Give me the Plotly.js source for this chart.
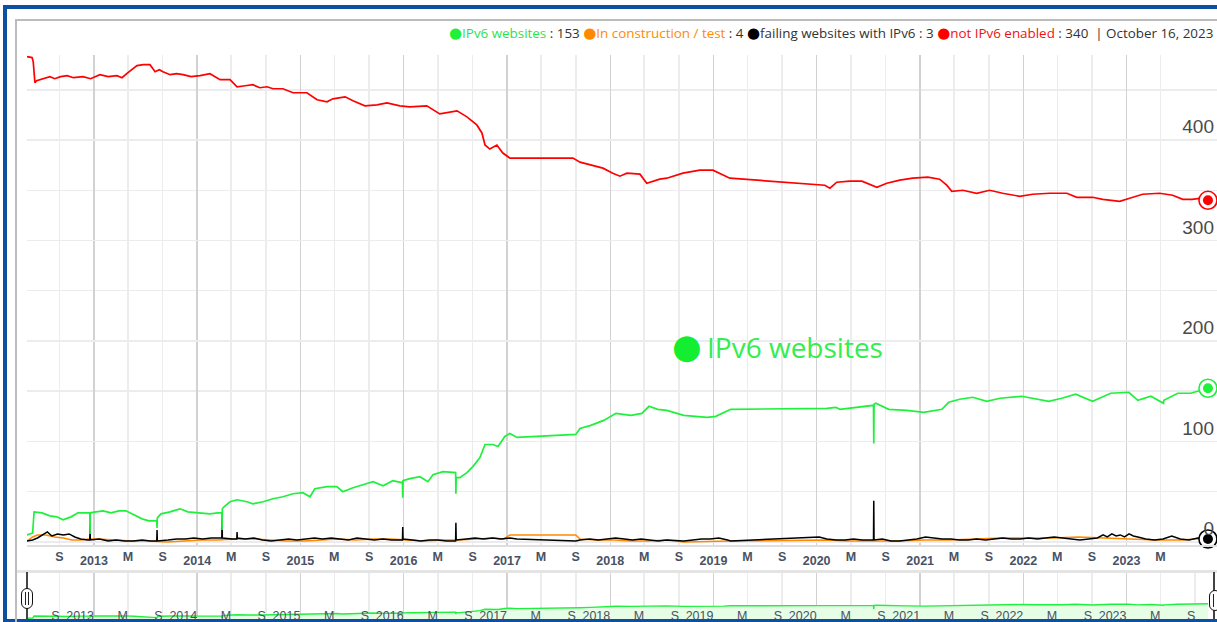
<!DOCTYPE html>
<html><head><meta charset="utf-8">
<script src="https://cdn.plot.ly/plotly-3.0.1.min.js"></script>
<style>
html,body{margin:0;padding:0;background:#fff;overflow:hidden;}
#wrap{position:relative;width:1217px;height:622px;overflow:hidden;background:#fff;}
#chart{position:absolute;left:0;top:0;width:1217px;height:622px;}
.deco{position:absolute;pointer-events:none;box-sizing:border-box;}
</style></head><body>
<div id="wrap">
<div id="chart"></div>
<div class="deco" style="left:3px;top:5px;width:1300px;height:617px;border-left:4px solid #0d4fa0;border-top:4px solid #0d4fa0;border-bottom:3px solid #0d4fa0;"></div>
<div class="deco" style="left:15px;top:19px;width:1300px;height:700px;border-left:2px solid #bcbcbc;border-top:2px solid #bcbcbc;"></div>
<div class="deco" style="left:17px;top:570px;width:1200px;height:3px;background:#e4e4e4;"></div>
<div class="deco" style="left:26px;top:572px;width:2px;height:47px;background:#444;"></div>
<div class="deco" style="left:21px;top:588px;width:12px;height:21px;border:1.8px solid #111;border-radius:6px;background:#fff;"></div>
<div class="deco" style="left:25px;top:592px;width:1.3px;height:13px;background:#222;"></div>
<div class="deco" style="left:28px;top:592px;width:1.3px;height:13px;background:#222;"></div>
<div class="deco" style="left:1213px;top:572px;width:2px;height:47px;background:#444;"></div>
<div class="deco" style="left:1209px;top:590px;width:12px;height:21px;border:1.8px solid #111;border-radius:6px;background:#fff;"></div>
<div class="deco" style="left:1213px;top:594px;width:1.3px;height:13px;background:#222;"></div>
</div>
<script>
// ---- data ----
const redDates = ['2012-05-09','2012-05-27','2012-05-31','2012-06-06','2012-06-12','2012-06-24','2012-07-10','2012-07-29','2012-08-15','2012-09-05','2012-09-28','2012-10-20','2012-11-23','2012-12-20','2013-01-22','2013-02-20','2013-03-23','2013-04-10','2013-05-01','2013-06-02','2013-06-25','2013-07-18','2013-08-05','2013-08-20','2013-09-02','2013-09-27','2013-10-20','2013-11-12','2013-12-10','2014-01-11','2014-02-15','2014-03-05','2014-03-23','2014-04-27','2014-05-22','2014-06-20','2014-07-17','2014-08-10','2014-09-05','2014-09-26','2014-10-31','2014-12-06','2015-01-24','2015-03-01','2015-04-05','2015-04-26','2015-06-08','2015-07-06','2015-08-17','2015-09-29','2015-11-03','2015-12-19','2016-01-23','2016-03-23','2016-05-08','2016-07-08','2016-08-12','2016-09-16','2016-10-04','2016-10-15','2016-11-01','2016-11-26','2016-12-17','2017-01-11','2017-02-05','2017-08-22','2017-09-16','2017-10-10','2017-12-06','2018-01-10','2018-02-04','2018-03-01','2018-04-16','2018-05-10','2018-06-25','2018-07-20','2018-09-15','2018-11-14','2018-12-30','2019-02-28','2020-01-12','2020-01-30','2020-02-17','2020-03-12','2020-04-27','2020-06-09','2020-08-01','2020-09-05','2020-10-21','2020-12-06','2021-01-28','2021-03-11','2021-04-05','2021-04-23','2021-06-01','2021-07-20','2021-09-04','2021-10-20','2021-12-19','2022-02-03','2022-04-04','2022-06-04','2022-07-09','2022-09-03','2022-10-09','2022-12-08','2023-01-12','2023-02-27','2023-04-28','2023-06-13','2023-07-19','2023-08-20','2023-09-17','2023-10-16'];
const redValues = [483,482,478,457,459,460,462,463,461,463,464,462,463,461,465,463,464,462,467,474,475,475,468,470,468,465,466,465,463,464,466,463,460,460,453,454,455,452,453,451,451,447,447,440,438,441,443,439,434,435,437,434,433,434,426,429,423,415,407,395,391,395,387,382,382,382,378,376,372,367,364,367,366,357,361,362,367,370,370,362,356,355,352,358,359,359,353,357,360,362,363,361,355,349,350,347,350,347,344,346,347,347,343,343,341,339,342,346,347,345,341,341,342,340];

const greenDates = ['2012-05-09','2012-05-29','2012-06-03','2012-07-01','2012-07-29','2012-08-23','2012-09-13','2012-10-12','2012-11-05','2012-12-04','2012-12-17','2012-12-18','2012-12-19','2013-01-08','2013-02-02','2013-03-02','2013-03-30','2013-04-24','2013-05-22','2013-06-20','2013-07-14','2013-08-05','2013-08-11','2013-08-12','2013-08-13','2013-08-26','2013-09-27','2013-11-01','2013-11-29','2014-01-07','2014-02-15','2014-03-15','2014-03-29','2014-03-30','2014-03-31','2014-04-06','2014-04-27','2014-05-22','2014-06-26','2014-07-17','2014-08-22','2014-09-26','2014-10-31','2014-12-06','2015-01-10','2015-02-04','2015-02-21','2015-04-05','2015-05-10','2015-05-31','2015-07-06','2015-08-10','2015-09-15','2015-10-20','2015-11-24','2015-12-26','2015-12-28','2015-12-29','2015-12-30','2016-01-23','2016-02-28','2016-03-27','2016-04-14','2016-05-19','2016-06-20','2016-07-03','2016-07-04','2016-07-05','2016-07-18','2016-08-12','2016-09-02','2016-09-27','2016-10-15','2016-11-12','2016-11-30','2016-12-24','2017-01-11','2017-02-05','2017-09-01','2017-09-16','2017-10-24','2017-12-09','2018-01-21','2018-03-15','2018-04-23','2018-05-18','2018-06-18','2018-07-20','2018-09-18','2018-11-07','2018-12-09','2019-01-09','2019-02-07','2019-03-03','2020-02-06','2020-03-09','2020-03-23','2020-05-25','2020-07-10','2020-07-20','2020-07-21','2020-07-22','2020-07-28','2020-09-12','2020-11-15','2021-01-14','2021-03-19','2021-04-12','2021-05-21','2021-07-06','2021-08-25','2021-10-10','2021-12-26','2022-02-14','2022-04-01','2022-05-17','2022-07-05','2022-09-03','2022-11-06','2023-01-09','2023-02-10','2023-03-28','2023-05-12','2023-05-13','2023-07-01','2023-08-16','2023-10-16'];
const greenValues = [7,9,30,29,26,25,22,25,29,29,29,8,29,30,31,29,31,31,27,23,21,21,21,14,24,28,30,33,30,29,28,29,29,12,33,35,40,42,40,38,40,43,45,48,49,45,53,55,55,50,54,57,60,56,61,59,60,44,61,63,65,60,67,70,69,69,48,64,64,69,75,84,97,97,95,105,108,104,107,113,116,121,128,126,128,135,132,131,126,125,124,125,129,132,133,134,132,134,136,136,98,137,138,132,131,129,132,139,142,144,140,143,145,142,140,143,147,140,148,149,141,145,138,141,148,148,153];

const orangeDates = ['2012-05-09','2012-05-29','2012-06-15','2012-07-15','2012-08-15','2012-09-15','2012-10-15','2012-11-15','2012-12-15','2013-01-15','2013-03-15','2013-05-15','2013-07-15','2013-09-15','2013-11-15','2014-01-15','2014-03-15','2014-05-15','2014-07-15','2014-09-15','2014-11-15','2015-01-15','2015-03-15','2015-05-15','2015-07-15','2015-09-15','2015-11-15','2016-01-15','2016-03-15','2016-05-15','2016-07-15','2016-09-15','2016-11-15','2016-12-20','2017-01-11','2017-02-05','2017-09-01','2017-09-16','2017-11-15','2018-01-15','2018-03-15','2018-05-15','2018-07-15','2018-09-18','2019-01-15','2019-03-03','2020-02-06','2020-04-15','2020-07-15','2020-10-15','2021-01-15','2021-04-15','2021-07-15','2021-10-15','2022-01-15','2022-04-15','2022-07-15','2022-10-15','2023-01-15','2023-04-15','2023-07-15','2023-10-16'];
const orangeValues = [1,5,7,7,5,4,2,2,3,3,2,1,1,0,1,2,2,3,3,2,1,1,2,3,2,3,3,2,1,2,2,3,4,3,7,7,7,3,2,2,1,1,2,0,1,1,2,1,1,1,2,2,3,4,4,4,5,4,3,2,2,4];

const blackDates = ['2012-05-09','2012-05-29','2012-06-15','2012-07-05','2012-07-20','2012-08-05','2012-08-25','2012-09-15','2012-10-05','2012-10-25','2012-11-15','2012-12-10','2012-12-17','2012-12-18','2012-12-19','2013-01-20','2013-02-20','2013-03-20','2013-04-20','2013-05-20','2013-06-20','2013-07-20','2013-08-11','2013-08-12','2013-08-13','2013-09-20','2013-10-20','2013-11-20','2013-12-20','2014-01-20','2014-02-20','2014-03-29','2014-03-30','2014-03-31','2014-05-05','2014-05-21','2014-05-22','2014-05-23','2014-06-20','2014-07-20','2014-08-20','2014-09-20','2014-10-20','2014-11-20','2014-12-20','2015-01-20','2015-02-20','2015-03-20','2015-04-20','2015-05-20','2015-06-20','2015-07-20','2015-08-20','2015-09-20','2015-10-20','2015-11-20','2015-12-28','2015-12-29','2015-12-30','2016-02-01','2016-03-01','2016-04-01','2016-05-01','2016-06-01','2016-07-03','2016-07-04','2016-07-05','2016-08-10','2016-09-10','2016-10-10','2016-11-10','2016-12-10','2017-01-11','2017-02-05','2017-09-01','2017-09-16','2017-10-20','2017-11-20','2017-12-20','2018-01-20','2018-02-20','2018-03-20','2018-04-20','2018-05-20','2018-06-20','2018-07-20','2018-09-18','2018-10-20','2018-11-20','2018-12-20','2019-01-20','2019-02-20','2019-03-03','2020-01-10','2020-02-06','2020-03-10','2020-04-10','2020-05-10','2020-06-10','2020-07-20','2020-07-21','2020-07-22','2020-08-20','2020-09-20','2020-10-20','2020-11-20','2020-12-20','2021-01-20','2021-02-20','2021-03-20','2021-04-20','2021-05-20','2021-06-20','2021-07-20','2021-08-20','2021-09-20','2021-10-20','2021-11-20','2021-12-20','2022-01-20','2022-02-20','2022-03-20','2022-04-20','2022-05-20','2022-06-20','2022-07-20','2022-08-20','2022-09-20','2022-10-10','2022-10-25','2022-11-10','2022-11-25','2022-12-10','2022-12-25','2023-01-10','2023-01-25','2023-02-10','2023-03-10','2023-04-10','2023-05-10','2023-06-10','2023-07-10','2023-08-10','2023-09-10','2023-10-16'];
const blackValues = [1,2,4,7,10,6,8,7,8,5,3,2,2,17,2,3,1,2,1,1,2,1,1,12,1,2,3,3,4,3,4,4,27,4,3,3,10,4,3,4,2,1,2,3,2,3,4,3,4,3,2,4,3,2,3,2,2,15,3,2,1,2,2,1,1,19,2,3,4,3,4,3,4,3,1,2,3,2,3,4,3,2,3,2,1,2,1,2,3,3,4,2,1,5,3,2,2,3,2,2,41,2,3,1,1,2,3,5,4,3,3,2,2,3,2,3,4,3,3,4,3,4,5,4,3,2,3,4,7,5,8,6,7,5,8,6,5,3,2,3,6,3,2,4,3];

const seriesNames = ['IPv6 websites','In construction / test','failing websites with IPv6','not IPv6 enabled'];
const seriesCounts = [153, 4, 3, 340];
const reportDate = 'October 16, 2023';

const yearTickDates = ['2013-01-01','2014-01-01','2015-01-01','2016-01-01','2017-01-01','2018-01-01','2019-01-01','2020-01-01','2021-01-01','2022-01-01','2023-01-01'];
const yearTickLabels = ['2013','2014','2015','2016','2017','2018','2019','2020','2021','2022','2023'];
const monthTickDates = ['2012-09-01','2013-05-01','2013-09-01','2014-05-01','2014-09-01','2015-05-01','2015-09-01','2016-05-01','2016-09-01','2017-05-01','2017-09-01','2018-05-01','2018-09-01','2019-05-01','2019-09-01','2020-05-01','2020-09-01','2021-05-01','2021-09-01','2022-05-01','2022-09-01','2023-05-01','2023-09-01'];
const monthTickLabels = ['S','M','S','M','S','M','S','M','S','M','S','M','S','M','S','M','S','M','S','M','S','M','S'];
const yTickVals = [0,100,200,300,400];
const yTickLabels = ['0','100','200','300','400'];
const yGridVals = [50,150,250,350,450];

// ---- styles ----
const C = {green:'#1ff03c', orange:'#ff8a00', black:'#000000', red:'#ff0000'};
const xRange = ['2012-05-09','2023-11-17'];
const tickFont = {family:'Liberation Sans, Arial, sans-serif', size:12.5, color:'#485264', weight:'bold'};
const miniFont = {family:'Liberation Sans, Arial, sans-serif', size:12.5, color:'#485264'};

function line(x, y, color, xa, ya, w) {
  return {type:'scatter', mode:'lines', x:x, y:y, xaxis:xa, yaxis:ya,
          line:{color:color, width:w||1.3}, hoverinfo:'skip'};
}
function last(a){ return a[a.length-1]; }
function endMarker(x, y, color){
  return [
    {type:'scatter', mode:'markers', x:[last(x)], y:[last(y)], xaxis:'x3', yaxis:'y', cliponaxis:false,
     marker:{size:18, color:'#ffffff', line:{color:color, width:1.6}}, hoverinfo:'skip'},
    {type:'scatter', mode:'markers', x:[last(x)], y:[last(y)], xaxis:'x3', yaxis:'y', cliponaxis:false,
     marker:{size:10, color:color}, hoverinfo:'skip'}
  ];
}

const traces = [
  line(orangeDates, orangeValues, C.orange, 'x', 'y', 1.5),
  line(blackDates, blackValues, C.black, 'x', 'y', 1.5),
  line(greenDates, greenValues, C.green, 'x', 'y', 1.7),
  line(redDates, redValues, C.red, 'x', 'y', 1.7),
  ...endMarker(redDates, redValues, C.red),
  ...endMarker(greenDates, greenValues, C.green),
  ...endMarker(blackDates, blackValues, C.black),
  {type:'scatter', mode:'lines', x:greenDates, y:greenValues, xaxis:'x2', yaxis:'y2',
   fill:'tozeroy', fillcolor:'#e6fde6', line:{width:0, color:'rgba(0,0,0,0)'}, hoverinfo:'skip'},
  line(greenDates, greenValues, C.green, 'x4', 'y2', 1.4)
];

const dot = (c) => `<span style="color:${c};font-family:'DejaVu Sans';font-size:15px">●</span>`;
const legendText =
  `${dot(C.green)}<span style="color:#2fe24a">${seriesNames[0]}</span> : ${seriesCounts[0]} ` +
  `${dot(C.orange)}<span style="color:${C.orange}">${seriesNames[1]}</span> : ${seriesCounts[1]} ` +
  `${dot('#000')}${seriesNames[2]} : ${seriesCounts[2]} ` +
  `${dot(C.red)}<span style="color:#ee1111">${seriesNames[3]}</span> : ${seriesCounts[3]}  | ${reportDate}`;

const mainXBase = {type:'date', range:xRange, ticks:'', showline:false, zeroline:false, fixedrange:true, tickmode:'array', tickfont:tickFont, gridwidth:1.5};

const layout = {
  width:1217, height:622,
  margin:{l:27, r:0, t:0, b:0},
  paper_bgcolor:'rgba(0,0,0,0)', plot_bgcolor:'rgba(0,0,0,0)',
  showlegend:false,
  xaxis: Object.assign({}, mainXBase, {anchor:'y', domain:[0,1], tickvals:yearTickDates, ticktext:yearTickLabels,
     gridcolor:'#d2d2d2', showline:true, linecolor:'#dedede', linewidth:2, ticklabelstandoff:3}),
  xaxis3: Object.assign({}, mainXBase, {anchor:'y', overlaying:'x', tickvals:monthTickDates, ticktext:monthTickLabels,
     gridcolor:'#ececec', ticklabelstandoff:3}),
  yaxis: {domain:[0.1238, 0.9116], range:[-3, 484.6], anchor:'x', side:'right', ticks:'', zeroline:false, fixedrange:true,
     tickmode:'array', tickvals:yTickVals, ticktext:yTickLabels, ticklabelposition:'inside top',
     tickfont:{family:'Liberation Sans, Arial, sans-serif', size:19, color:'#4a4a4a'},
     showgrid:true, gridcolor:'#ececf0', gridwidth:1.5,
     minor:{tickmode:'array', tickvals:yGridVals, showgrid:true, gridcolor:'#ececf0', gridwidth:1.5, ticks:''}},
  xaxis2: Object.assign({}, mainXBase, {anchor:'y2', domain:[0,1], tickvals:yearTickDates, ticktext:yearTickLabels,
     gridcolor:'#d2d2d2', ticklabelposition:'inside left', ticklabelstandoff:-6, tickfont:miniFont}),
  xaxis4: Object.assign({}, mainXBase, {anchor:'y2', overlaying:'x2', tickvals:monthTickDates, ticktext:monthTickLabels,
     gridcolor:'#ececec', ticklabelposition:'inside left', ticklabelstandoff:-6, tickfont:miniFont}),
  yaxis2: {domain:[0, 0.0788], range:[-30, 460], anchor:'x2', showticklabels:false, showgrid:false, zeroline:false, ticks:'', fixedrange:true},
  annotations: [
    {xref:'paper', yref:'paper', x:0.9983, y:0.9465, xanchor:'right', yanchor:'middle', showarrow:false,
     text:legendText, font:{family:'Open Sans, sans-serif', size:13.4, color:'#333333'}},
    {xref:'paper', yref:'paper', x:0.5546, y:0.4440, xanchor:'center', yanchor:'middle', showarrow:false,
     text:'●', font:{family:'DejaVu Sans, sans-serif', size:34, color:'#14ee30'}},
    {xref:'paper', yref:'paper', x:0.5697, y:0.4421, xanchor:'left', yanchor:'middle', showarrow:false,
     text:seriesNames[0], font:{family:'Open Sans, sans-serif', size:28, color:'#33ee4e'}}
  ]
};

Plotly.newPlot('chart', traces, layout, {staticPlot:true, displayModeBar:false});
</script>
</body></html>
